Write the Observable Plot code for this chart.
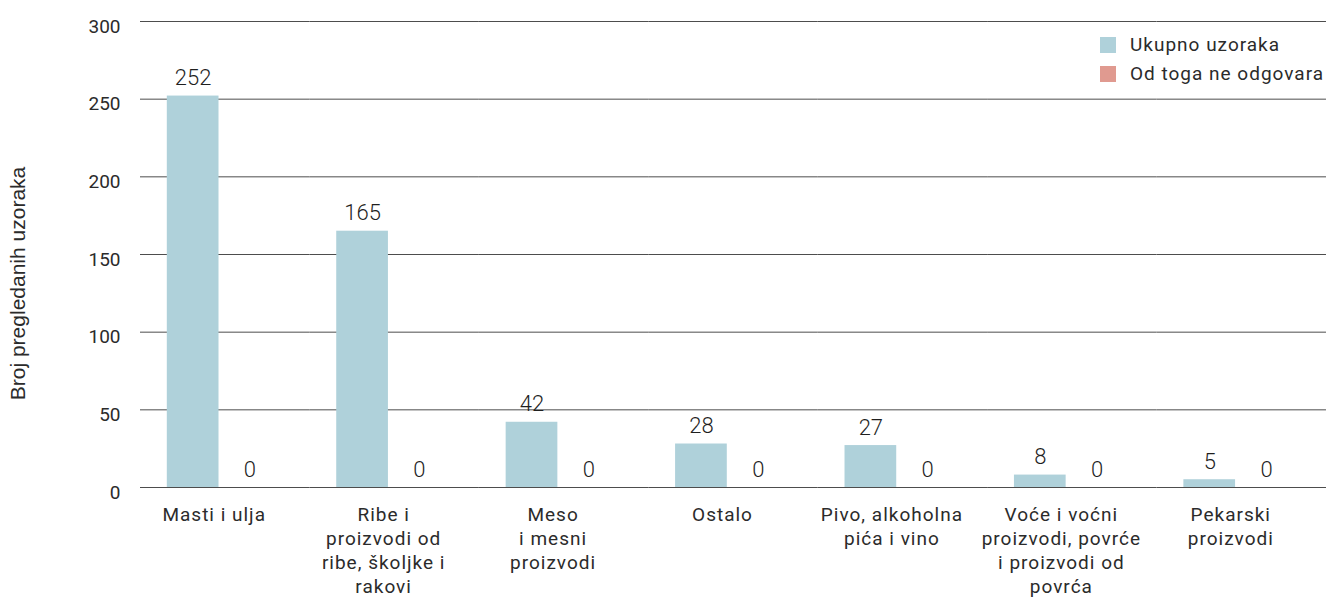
<!DOCTYPE html>
<html><head><meta charset="utf-8">
<script src="https://cdn.jsdelivr.net/npm/d3@7"></script>
<script src="https://cdn.jsdelivr.net/npm/@observablehq/plot@0.6"></script>
<style>
body{margin:0;background:#fff;}
#wrap{position:relative;width:1329px;height:597px;font-family:Roboto, sans-serif;color:#2b2b2b;}
#wrap > svg{position:absolute;left:0;top:0;}
#wrap svg g[aria-label="fx-axis tick label"] text{letter-spacing:1px;}
#legend{position:absolute;left:1100px;top:33px;letter-spacing:1px;}
.lg-swatch{padding-bottom:6px !important;line-height:23px;}
.lg-swatch > svg{margin-right:14px !important;}
</style></head><body><div id="wrap"><div id="legend"></div></div>
<script>
const categories = ["Masti i ulja", "Ribe i\nproizvodi od\nribe, školjke i\nrakovi", "Meso\ni mesni\nproizvodi", "Ostalo", "Pivo, alkoholna\npića i vino", "Voće i voćni\nproizvodi, povrće\ni proizvodi od\npovrća", "Pekarski\nproizvodi"];
const series = ["Ukupno uzoraka", "Od toga ne odgovara"];
const ukupno = [252, 165, 42, 28, 27, 8, 5];
const neOdgovara = [0, 0, 0, 0, 0, 0, 0];
const yTicks = [0, 50, 100, 150, 200, 250, 300];
const yLabel = "Broj pregledanih uzoraka";
const colors = ["#afd1da", "#e09a90"];

const data = categories.flatMap((c, i) => [
  {category: c, series: series[0], value: ukupno[i]},
  {category: c, series: series[1], value: neOdgovara[i]}
]);

const chart = Plot.plot({
  width: 1329, height: 597,
  marginLeft: 140, marginRight: 3, marginTop: 21, marginBottom: 110,
  style: {fontFamily: "Roboto", fontSize: "19px", color: "#2b2b2b", background: "transparent"},
  fx: {domain: categories, padding: 0, round: false, label: null},
  x: {domain: series, paddingInner: 0.09, paddingOuter: 0.536, align: 0.44, round: false, axis: null},
  y: {domain: [0, 300], label: null},
  color: {domain: series, range: colors},
  marks: [
    Plot.gridY(yTicks, {stroke: "#4d4d4d", strokeOpacity: 1, strokeWidth: 1}),
    Plot.barY(data, {fx: "category", x: "series", y: "value", fill: "series"}),
    Plot.text(data, {fx: "category", x: "series", y: "value", text: d => String(d.value), lineAnchor: "bottom", dy: -11, fontSize: 22, fontWeight: 300, fill: "#1f1f1f"}),
    Plot.axisY(yTicks, {tickSize: 0, tickPadding: 20, fontSize: 19, dy: 5, label: null}),
    Plot.axisFx({anchor: "bottom", tickSize: 0, tickPadding: 17, fontSize: 19, lineHeight: 1.25, dx: -11, label: null}),
    Plot.text([categories[0]], {fx: d => d, text: () => yLabel, frameAnchor: "left", rotate: -90, dx: -122, dy: 29, textAnchor: "middle", lineAnchor: "middle", fontSize: 21, fontFamily: "Liberation Sans", fill: "#2b2b2b"})
  ]
});
document.getElementById("wrap").appendChild(chart);

const legend = Plot.legend({
  color: {domain: series, range: colors},
  legend: "swatches", columns: 1, swatchSize: 16, className: "lg",
  style: {fontSize: "19px", fontFamily: "Roboto", color: "#2b2b2b"}
});
document.getElementById("legend").appendChild(legend);
</script>
</body></html>
